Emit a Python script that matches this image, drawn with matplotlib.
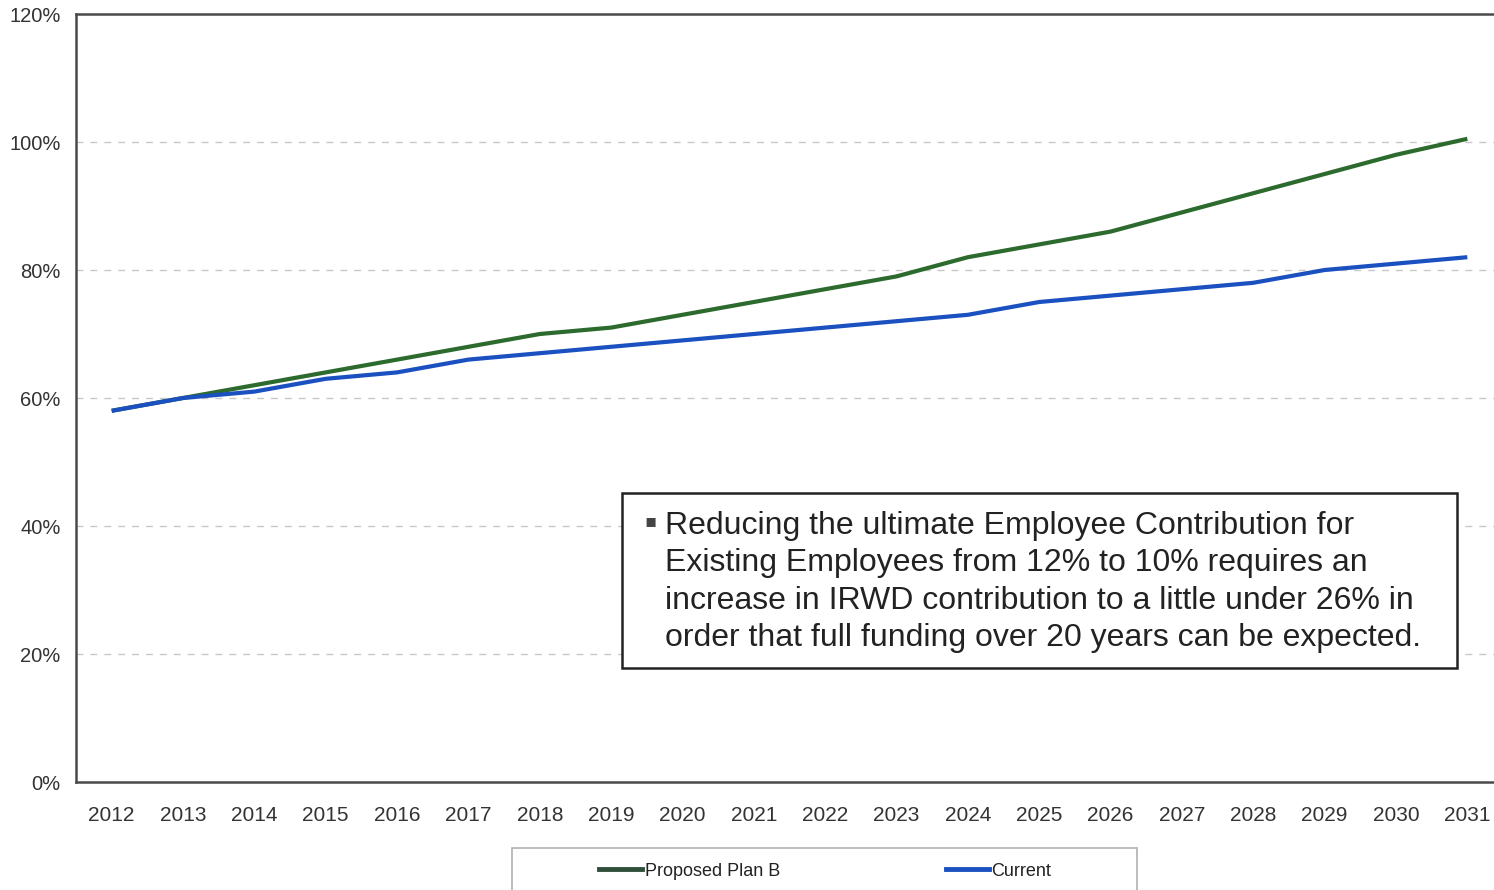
import matplotlib
matplotlib.use("Agg")
import matplotlib.pyplot as plt
from matplotlib.patches import Rectangle
from matplotlib.lines import Line2D
from matplotlib.ticker import FuncFormatter, MultipleLocator

plt.rcParams['font.family'] = ['Liberation Sans', 'DejaVu Sans']

years = ["2012", "2013", "2014", "2015", "2016", "2017", "2018", "2019", "2020", "2021",
         "2022", "2023", "2024", "2025", "2026", "2027", "2028", "2029", "2030", "2031"]
proposed_plan_b = [58, 60, 62, 64, 66, 68, 70, 71, 73, 75,
                   77, 79, 82, 84, 86, 89, 92, 95, 98, 100.5]
current = [58, 60, 61, 63, 64, 66, 67, 68, 69, 70,
           71, 72, 73, 75, 76, 77, 78, 80, 81, 82]

note = ("Reducing the ultimate Employee Contribution for\n"
        "Existing Employees from 12% to 10% requires an\n"
        "increase in IRWD contribution to a little under 26% in\n"
        "order that full funding over 20 years can be expected.")

GREEN = "#2c6a2e"
BLUE = "#1a50c0"
TEXT = "#333333"
SPINE = "#4a4a4a"

W, H = 1494, 890
fig = plt.figure(figsize=(W / 100, H / 100), dpi=100)
ax = fig.add_axes([76 / W, 1 - 782 / H, (1503 - 76) / W, (782 - 14) / H])

x = list(range(len(years)))
ax.plot(x, proposed_plan_b, color=GREEN, lw=3.0, solid_capstyle='butt', zorder=3)
ax.plot(x, current, color=BLUE, lw=3.0, solid_capstyle='butt', zorder=3)

ax.set_xlim(-0.5, len(years) - 0.5)
ax.set_ylim(0, 120)
ax.set_xticks(x)
ax.set_xticklabels(years)
ax.yaxis.set_major_locator(MultipleLocator(20))
ax.yaxis.set_major_formatter(FuncFormatter(lambda v, _: f"{v:.0f}%"))

ax.tick_params(axis='both', length=0, labelcolor=TEXT)
ax.tick_params(axis='x', labelsize=15, pad=17)
ax.tick_params(axis='y', labelsize=14.5, pad=11)

for v in range(20, 120, 20):
    ax.axhline(v, color="#c8c8c8", lw=1.0, ls=(0, (5, 5)), zorder=1)

for side in ['left', 'bottom', 'top']:
    ax.spines[side].set_color(SPINE)
    ax.spines[side].set_linewidth(1.8)
ax.spines['right'].set_visible(False)

# explanatory note box
ax.add_patch(Rectangle((622 / W, 1 - 668 / H), (1457 - 622) / W, (668 - 493) / H,
                       transform=fig.transFigure, fill=True, facecolor='white',
                       edgecolor="#222222", lw=1.8, zorder=4))
fig.text(650 / W, 1 - 521 / H, "\u25aa", fontsize=13, color="#444444",
         family=['DejaVu Sans'], ha='center', va='center', zorder=5)
fig.text(665 / W, 1 - 511 / H, note, fontsize=23, color="#222222",
         va='top', ha='left', linespacing=1.32, zorder=5)

# legend frame along the bottom
fig.patches.append(Rectangle((512 / W, -0.02), (1137 - 512) / W, 0.02 + (H - 848) / H,
                             transform=fig.transFigure, fill=False,
                             edgecolor="#b0b0b0", lw=1.2))
handles = [Line2D([], [], color="#2f4f3a", lw=3.5),
           Line2D([], [], color=BLUE, lw=3.5)]
fig.legend(handles, ["Proposed Plan B", "Current"], loc='center left',
           bbox_to_anchor=(590 / W, 1 - 871 / H), ncol=2, frameon=False,
           fontsize=13, handlelength=2.4, handletextpad=0.12, columnspacing=9.2,
           labelcolor="#222222", borderpad=0)

fig.savefig("out.png", dpi=100)
